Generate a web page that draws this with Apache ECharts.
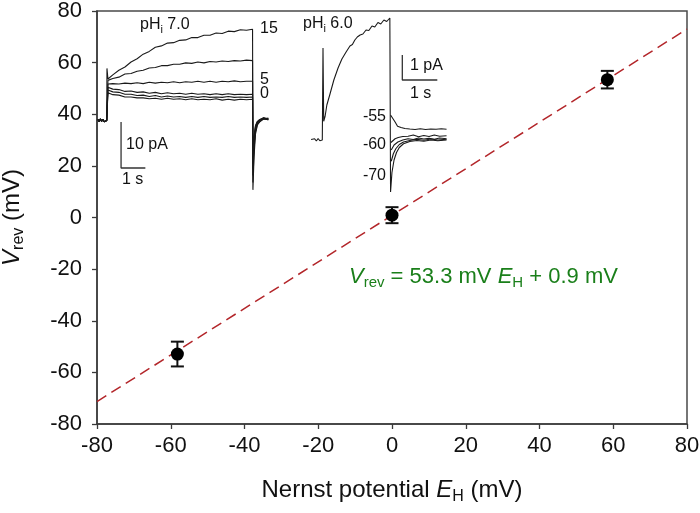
<!DOCTYPE html>
<html><head><meta charset="utf-8">
<script src="https://cdn.jsdelivr.net/npm/echarts@6/dist/echarts.min.js"></script>
<style>html,body{margin:0;padding:0;background:#fff}#c{width:700px;height:513px}</style>
</head><body><div id="c"></div>
<script>
// ---------- main plot data ----------
const xTickMin = -80, xTickMax = 80, tickStep = 20;
const eH = [-58.2, 0.0, 58.4];          // Nernst potential E_H (mV)
const vRev = [-52.9, 0.9, 53.4];        // reversal potential (mV)
const vErr = [4.8, 3.1, 3.4];           // SEM (mV)
const fitX = [-80, 80];                 // regression line ends
const fitY = [-71.3, 73.0];

// ---------- inset 1 (pHi 7.0), time in s, current in pA ----------
const preT1 = [-0.36, -0.31, -0.26, -0.21, -0.16, -0.11, -0.06, 0.0];
const preI1 = [0.2, -0.3, 0.3, -0.2, 0.25, -0.3, 0.1, 0.0];
const spike1 = 11.3;
const T1 = [0.05,0.25,0.5,0.75,1.0,1.25,1.5,1.75,2.0,2.25,2.5,2.75,3.0,3.25,3.5,3.75,4.0,4.25,4.5,4.75,5.0,5.25,5.5,5.75,6.0];
const I15  = [9.0,9.9,10.9,11.6,12.7,13.4,14.4,15.0,15.9,16.2,16.8,16.9,17.4,17.5,18.0,18.0,18.5,18.5,19.0,18.9,19.4,19.3,19.7,19.6,19.8];
const I10  = [8.7,9.1,9.4,10.1,10.2,10.7,10.9,11.4,11.5,11.9,11.9,12.2,12.2,12.5,12.4,12.7,12.5,12.8,12.7,12.9,12.8,13.0,12.9,13.1,13.0];
const I5   = [7.9,8.0,7.9,8.1,8.0,8.2,8.0,8.3,8.1,8.3,8.2,8.4,8.2,8.4,8.3,8.5,8.3,8.5,8.3,8.5,8.4,8.6,8.4,8.5,8.5];
const I0   = [7.2,6.8,6.7,6.3,6.4,6.1,6.2,5.9,6.1,5.8,6.0,5.8,5.9,5.7,5.9,5.7,5.8,5.6,5.8,5.6,5.8,5.6,5.7,5.6,5.7];
const Im5  = [6.6,6.2,6.1,5.7,5.7,5.4,5.5,5.2,5.4,5.1,5.3,5.1,5.2,5.0,5.2,5.0,5.2,5.0,5.1,5.0,5.2,5.0,5.1,5.0,5.1];
const Im10 = [6.0,5.6,5.5,5.1,5.1,4.9,4.9,4.7,4.8,4.6,4.8,4.6,4.7,4.5,4.7,4.5,4.6,4.5,4.7,4.4,4.6,4.4,4.6,4.5,4.6];
const tailT1 = [6.015, 6.06, 6.12, 6.2, 6.3, 6.45, 6.65];
const tail15  = [-15.1, -8.0, -3.0, -1.0, -0.3, 0.3, 0.2];
const tail10  = [-13.5, -6.5, -2.5, -0.8, -0.2, 0.4, 0.1];
const tail5   = [-12.0, -5.5, -2.0, -0.6, 0.0, 0.3, 0.4];
const tail0   = [-10.5, -4.5, -1.6, -0.4, 0.1, 0.5, 0.2];
const tailm5  = [-9.5, -4.0, -1.3, -0.3, 0.2, 0.3, 0.5];
const tailm10 = [-8.5, -3.5, -1.1, -0.2, 0.2, 0.6, 0.3];
const bar1 = {t: 0.59, i: -10.35, dt: 1, di: 10};   // scale bar 1 s / 10 pA

// ---------- inset 2 (pHi 6.0) ----------
const preT2 = [-0.32, -0.27, -0.22, -0.17, -0.12, -0.07, -0.02, 0.0];
const preI2 = [0.02, -0.06, 0.05, -0.04, 0.06, -0.03, 0.02, 0.0];
const spike2 = 3.68;
const T2 = [0.04,0.08,0.13,0.22,0.33,0.45,0.56,0.68,0.79,0.86,0.93,1.0,1.08,1.16,1.25,1.33,1.42,1.5,1.59,1.67,1.76,1.84,1.93];
const I2 = [0.75,0.95,1.4,1.84,2.4,2.88,3.24,3.52,3.76,3.82,4.0,4.12,4.2,4.24,4.4,4.38,4.56,4.52,4.7,4.64,4.8,4.74,4.88];
const dropT2 = 1.95, dropI2 = -2.08;
const tail70T = [1.99,2.05,2.12,2.2,2.32,2.5,2.7,2.9,3.1,3.3,3.55];
const tail70  = [-1.3,-0.8,-0.5,-0.3,-0.15,-0.06,-0.02,-0.05,0.0,-0.03,0.0];
const tail65T = [1.97,2.03,2.1,2.2,2.32,2.5,2.7,2.9,3.1,3.3,3.55];
const tail65  = [-0.85,-0.55,-0.35,-0.18,-0.08,-0.02,0.03,-0.01,0.04,0.0,0.03];
const tail60bT = [1.97,2.05,2.16,2.3,2.45,2.6,2.75,2.9,3.05,3.2,3.35,3.55];
const tail60b  = [-0.4,-0.2,-0.08,0.0,0.05,0.02,0.08,0.04,0.07,0.03,0.08,0.05];
const tail60aT = [1.96,2.0,2.08,2.17,2.3,2.45,2.6,2.75,2.9,3.05,3.2,3.35,3.55];
const tail60a  = [-0.1,-0.05,0.05,0.1,0.14,0.15,0.2,0.13,0.18,0.14,0.2,0.15,0.17];
const tail55T = [1.95,1.98,2.02,2.08,2.15,2.25,2.36,2.5,2.65,2.8,2.95,3.1,3.25,3.4,3.55];
const tail55  = [1.0,1.05,0.85,0.72,0.55,0.5,0.46,0.44,0.42,0.45,0.42,0.44,0.43,0.45,0.43];
const bar2 = {t: 2.286, i: 2.4, dt: 1, di: 1};      // scale bar 1 s / 1 pA

// ---------- helpers ----------
const FONT = "'Liberation Sans', Arial, sans-serif";
const zip = (a, b) => a.map((v, k) => [v, b[k]]);
function trace1(I, tail, withSpike) {
  let d = zip(preT1, preI1);
  if (withSpike) d.push([0.01, spike1]);
  d = d.concat(zip(T1, I));
  d.push([6.0, I[I.length - 1]]);
  return d.concat(zip(tailT1, tail));
}
const traceStyle = {color: '#1a1a1a', width: 1.1};
function lineSeries(xi, yi, data, extra) {
  return Object.assign({type: 'line', xAxisIndex: xi, yAxisIndex: yi, data: data,
    symbol: 'none', smooth: false, lineStyle: traceStyle, silent: true, z: 5, animation: false}, extra || {});
}
function scaleBar(xi, b) {
  return lineSeries(xi, xi, [[b.t, b.i + b.di], [b.t, b.i], [b.t + b.dt, b.i]],
    {lineStyle: {color: '#333', width: 1.3}});
}

const inset1 = [I15, I10, I5, I0, Im5, Im10];
const tails1 = [tail15, tail10, tail5, tail0, tailm5, tailm10];

const series = [];
// main
series.push({type: 'line', xAxisIndex: 0, yAxisIndex: 0, data: zip(fitX, fitY), symbol: 'none',
  lineStyle: {color: '#b3262a', width: 1.5, type: [11, 6]}, z: 2, animation: false});
series.push({type: 'custom', xAxisIndex: 0, yAxisIndex: 0, z: 3, animation: false,
  data: eH.map((x, k) => [x, vRev[k], vErr[k]]),
  renderItem: function (params, api) {
    const x = api.value(0), y = api.value(1), e = api.value(2);
    const t = api.coord([x, y + e]), b = api.coord([x, y - e]);
    const hw = 6.5, st = {stroke: '#111', lineWidth: 2};
    return {type: 'group', children: [
      {type: 'line', shape: {x1: t[0], y1: t[1], x2: b[0], y2: b[1]}, style: st},
      {type: 'line', shape: {x1: t[0] - hw, y1: t[1], x2: t[0] + hw, y2: t[1]}, style: st},
      {type: 'line', shape: {x1: b[0] - hw, y1: b[1], x2: b[0] + hw, y2: b[1]}, style: st}
    ]};
  }});
series.push({type: 'scatter', xAxisIndex: 0, yAxisIndex: 0, data: zip(eH, vRev), symbol: 'circle',
  symbolSize: 13, itemStyle: {color: '#000', opacity: 1}, z: 4, animation: false});
// inset 1
inset1.forEach((I, k) => series.push(lineSeries(1, 1, trace1(I, tails1[k], k === 0))));
series.push(scaleBar(1, bar1));
// inset 2
let main2 = zip(preT2, preI2);
main2.push([0.02, spike2]);
main2 = main2.concat(zip(T2, I2));
main2.push([1.94, I2[I2.length - 1]]);
main2.push([dropT2, dropI2]);
main2 = main2.concat(zip(tail70T, tail70));
series.push(lineSeries(2, 2, main2));
series.push(lineSeries(2, 2, zip(tail65T, tail65)));
series.push(lineSeries(2, 2, zip(tail60bT, tail60b)));
series.push(lineSeries(2, 2, zip(tail60aT, tail60a)));
series.push(lineSeries(2, 2, zip(tail55T, tail55)));
series.push(scaleBar(2, bar2));

const INK = '#111';
const insetRich = {n: {fontSize: 16, fontFamily: FONT, fill: INK}, s: {fontSize: 11, fontFamily: FONT, fill: INK, padding: [9, 0, 0, 0]}};
function txt(x, y, text, align) {
  return {type: 'text', x: x, y: y, silent: true, z: 10,
    style: {text: text, fontSize: 16, fontFamily: FONT, fill: INK, align: align || 'left', verticalAlign: 'middle'}};
}
function richTxt(x, y, text, rich) {
  return {type: 'text', x: x, y: y, silent: true, z: 10,
    style: {text: text, rich: rich, verticalAlign: 'middle', align: 'left'}};
}
const GREEN = '#1a7f1a';
const eqRich = {n: {fontSize: 22, fontFamily: FONT, fill: GREEN},
  i: {fontSize: 22, fontFamily: FONT, fontStyle: 'italic', fill: GREEN},
  s: {fontSize: 15, fontFamily: FONT, fill: GREEN, padding: [12, 0, 0, 0]}};
const nameRich = {n: {fontSize: 24, fontFamily: FONT, color: INK},
  i: {fontSize: 24, fontFamily: FONT, fontStyle: 'italic', color: INK},
  s: {fontSize: 16, fontFamily: FONT, color: INK, padding: [13, 0, 0, 0]}};
const axisCommon = {
  axisLine: {onZero: false, lineStyle: {color: '#3a3a3a', width: 1.5}},
  axisTick: {length: 5, lineStyle: {color: '#3a3a3a', width: 1.3}},
  splitLine: {show: false}
};

const option = {
  backgroundColor: '#fff',
  animation: false,
  grid: [
    {left: 97, right: 13, top: 11, bottom: 89, show: true, borderColor: '#4a4a4a', borderWidth: 1.5,
      backgroundColor: 'transparent', containLabel: false, outerBoundsMode: 'none'},
    {left: 97, width: 175, top: 10, height: 184, containLabel: false, outerBoundsMode: 'none'},
    {left: 301.3, width: 157.5, top: 10, height: 185, containLabel: false, outerBoundsMode: 'none'}
  ],
  xAxis: [
    Object.assign({gridIndex: 0, type: 'value', min: xTickMin, max: xTickMax, interval: tickStep,
      axisLabel: {color: INK, fontSize: 22, fontFamily: FONT, margin: 11},
      name: '{n|Nernst potential }{i|E}{s|H}{n| (mV)}', nameLocation: 'middle', nameGap: 52,
      nameTextStyle: {color: INK, fontSize: 24, fontFamily: FONT, rich: nameRich}}, axisCommon),
    {gridIndex: 1, type: 'value', min: -0.4, max: 6.8, show: false},
    {gridIndex: 2, type: 'value', min: -0.6, max: 3.9, show: false}
  ],
  yAxis: [
    Object.assign({gridIndex: 0, type: 'value', min: xTickMin, max: xTickMax, interval: tickStep,
      axisLabel: {color: INK, fontSize: 22, fontFamily: FONT, margin: 15},
      name: '{i|V}{s|rev}{n| (mV)}', nameLocation: 'middle', nameGap: 70,
      nameTextStyle: {color: INK, fontSize: 24, fontFamily: FONT, rich: nameRich}}, axisCommon),
    {gridIndex: 1, type: 'value', min: -16, max: 24, show: false},
    {gridIndex: 2, type: 'value', min: -2.2, max: 5.2, show: false}
  ],
  graphic: [
    richTxt(140, 25, '{n|pH}{s|i}{n| 7.0}', insetRich),
    txt(260, 29, '15'),
    txt(260, 80, '5'),
    txt(260, 94, '0'),
    txt(126, 145, '10 pA'),
    txt(122, 180, '1 s'),
    richTxt(303, 24, '{n|pH}{s|i}{n| 6.0}', insetRich),
    txt(410, 66, '1 pA'),
    txt(410, 94, '1 s'),
    txt(386, 117, '-55', 'right'),
    txt(386, 145, '-60', 'right'),
    txt(386, 176, '-70', 'right'),
    richTxt(349, 277, '{i|V}{s|rev}{n| = 53.3 mV }{i|E}{s|H}{n| + 0.9 mV}', eqRich)
  ],
  series: series
};
const chart = echarts.init(document.getElementById('c'), null, {renderer: 'canvas'});
chart.setOption(option);
</script></body></html>
